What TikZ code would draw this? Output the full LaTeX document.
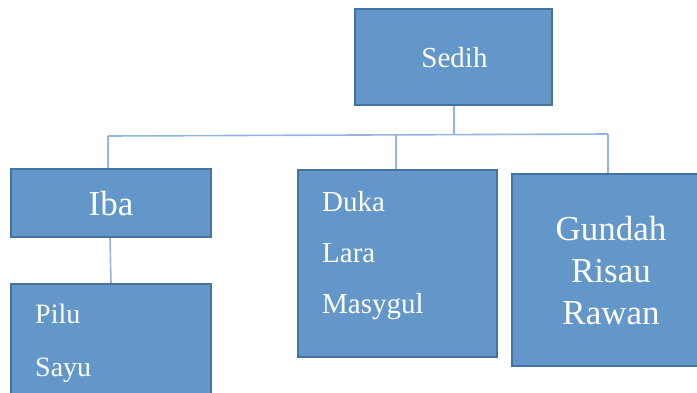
\documentclass[tikz,border=0pt]{standalone}
\usepackage{fontspec}
\setmainfont{Liberation Serif}
\definecolor{boxfill}{HTML}{6396C9}
\definecolor{boxline}{HTML}{46729F}
\definecolor{conn}{HTML}{94B6DE}
\begin{document}
\begin{tikzpicture}[x=1pt,y=-1pt,
  box/.style={draw=boxline,line width=1.8pt,fill=boxfill,inner sep=0pt,anchor=north west},
  lbl/.style={text=white,inner sep=0pt},
  link/.style={draw=conn,line width=1.6pt}]
\useasboundingbox (0,0) rectangle (697,392);
\clip (0,0) rectangle (697,392);
% boxes
\node[box,minimum width=197pt,minimum height=96pt] (sedih) at (354,8) {};
\node[box,minimum width=200pt,minimum height=68pt] (iba) at (10,168) {};
\node[box,minimum width=200pt,minimum height=130pt] (pilu) at (10,283) {};
\node[box,minimum width=199pt,minimum height=187pt] (duka) at (297,169) {};
\node[box,minimum width=200pt,minimum height=192pt] (gundah) at (511,173) {};
% connectors
\coordinate (bar) at (454,135);
\coordinate (barL) at (108,136);
\coordinate (barR) at (608,134);
\draw[link] (sedih.south -| bar) -- (bar);
\draw[link] (barL) -- (barR);
\draw[link] (barL) -- (iba.north -| barL);
\draw[link] (396,135) -- (duka.north -| 396,0);
\draw[link] (barR) -- (gundah.north -| barR);
\draw[link] (iba.south -| 110,0) -- (pilu.north -| 111,0);
% labels
\node[lbl,anchor=base,font=\fontsize{29}{34}\selectfont] (tsedih) at (454.5,67) {Sedih};
\node[lbl,anchor=base,font=\fontsize{35}{40}\selectfont] (tiba) at (111,215) {Iba};
\node[lbl,anchor=north west,align=left,font=\fontsize{28}{53}\selectfont] (tpilu) at (35,304) {Pilu\\Sayu};
\node[lbl,anchor=north west,align=left,font=\fontsize{29}{51}\selectfont] (tduka) at (322,191) {Duka\\Lara\\Masygul};
\node[lbl,anchor=north,align=center,font=\fontsize{35}{42}\selectfont] (tgundah) at (611,216) {Gundah\\Risau\\Rawan};
\end{tikzpicture}
\end{document}
